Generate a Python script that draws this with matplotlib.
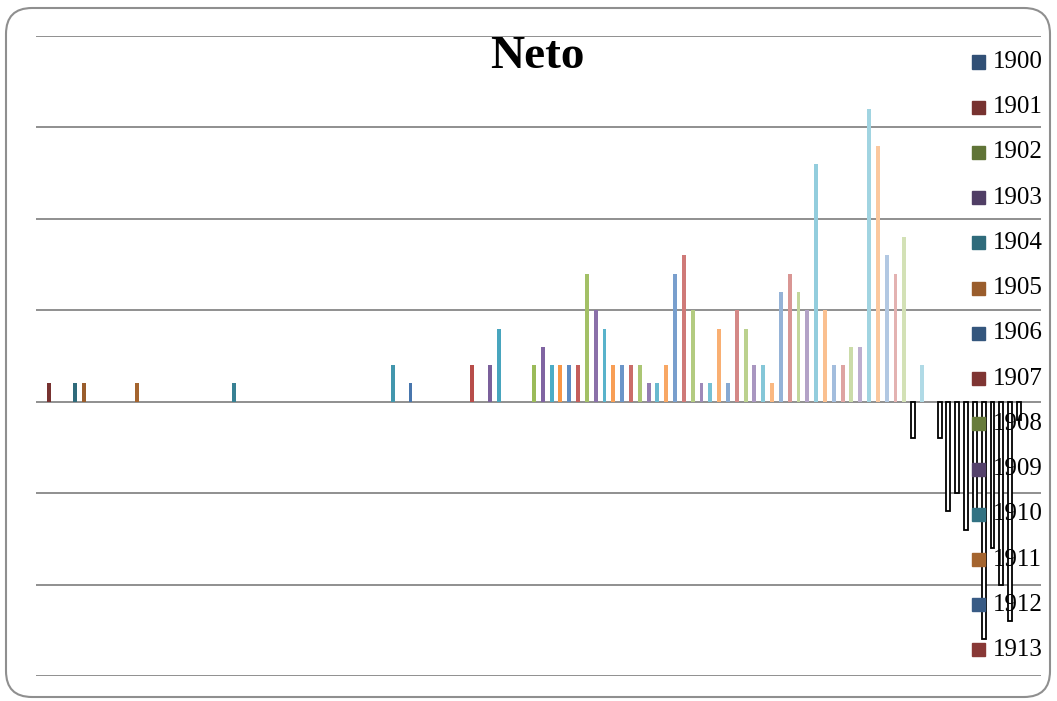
import numpy as np
import matplotlib
matplotlib.use("Agg")
import matplotlib.pyplot as plt
from matplotlib.patches import FancyBboxPatch, Rectangle

plt.rcParams['font.family'] = ['Liberation Serif', 'DejaVu Serif']

# Neto por año (los años sin barra valen 0)
years = [1901, 1904, 1905, 1911, 1922, 1940, 1942, 1949, 1951, 1952,
         1956, 1957, 1958, 1959, 1960, 1961, 1962, 1963, 1964, 1965,
         1966, 1967, 1968, 1969, 1970, 1971, 1972, 1973, 1974, 1975,
         1976, 1977, 1978, 1979, 1980, 1981, 1982, 1983, 1984, 1985,
         1986, 1987, 1988, 1989, 1990, 1991, 1992, 1993, 1994, 1995,
         1996, 1997, 1998, 1999, 2000, 2002, 2003, 2004, 2005, 2006,
         2007, 2008, 2009, 2010, 2011]
neto = [1, 1, 1, 1, 1, 2, 1, 2, 2, 4,
        2, 3, 2, 2, 2, 2, 7, 5, 4, 2,
        2, 2, 2, 1, 1, 2, 7, 8, 5, 1,
        1, 4, 1, 5, 4, 2, 2, 1, 6, 7,
        6, 5, 13, 5, 2, 2, 3, 3, 16, 14,
        8, 7, 9, -2, 2, -2, -6, -5, -7, -6,
        -13, -8, -10, -12, -1]
legend_years = list(range(1900, 1914))

accents = ['#4F81BD', '#C0504D', '#9BBB59', '#8064A2', '#4BACC6', '#F79646']


def series_color(year):
    # Excel style: each round of 6 series gets a lighter shade
    i = year - 1900
    g = i // 6
    base = np.array(matplotlib.colors.to_rgb(accents[i % 6]))
    if g < 9:
        return tuple(base * (1 - (9 - g) * 0.042))
    return tuple(base + (1 - base) * min((g - 9) * 0.08, 0.9))


W, H = 1057, 701
fig = plt.figure(figsize=(W / 100, H / 100), dpi=100)
ax = fig.add_axes([36 / W, 1 - 676 / H, 1005 / W, 640 / H])

x = np.array(years) - 1901
for xi, v, yr in zip(x, neto, years):
    if v >= 0:
        ax.bar(xi, v, width=0.45, color=series_color(yr), zorder=3)
    else:
        ax.bar(xi, v, width=0.45, color='white', edgecolor='black',
               linewidth=1.3, zorder=3)

ax.set_xlim(-1.47, 112.5)
ax.set_ylim(-15, 20)
for yv in range(-15, 21, 5):
    ax.axhline(yv, color='#878787', lw=1.3, zorder=1)
ax.set_xticks([])
ax.set_yticks([])
for s in ax.spines.values():
    s.set_visible(False)
ax.patch.set_alpha(0)

fig.text(537 / W, 1 - 57 / H, 'Neto', ha='center', va='center',
         fontsize=34, fontweight='bold')

# legend (only the first entries fit)
for j, yr in enumerate(legend_years):
    yc = 62 + 45.23 * j
    fig.patches.append(Rectangle((972 / W, 1 - (yc + 6.5) / H), 13 / W, 13 / H,
                                 transform=fig.transFigure, color=series_color(yr),
                                 zorder=5))
    fig.text(993 / W, 1 - yc / H, str(yr), ha='left', va='center',
             fontsize=18, zorder=6)

border = FancyBboxPatch((6, 4), 1044, 689, boxstyle='round,pad=0,rounding_size=26',
                        transform=None, facecolor='none', edgecolor='#8F8F8F',
                        lw=1.5, zorder=0)
fig.patches.append(border)

fig.savefig('out.png', dpi=100)
